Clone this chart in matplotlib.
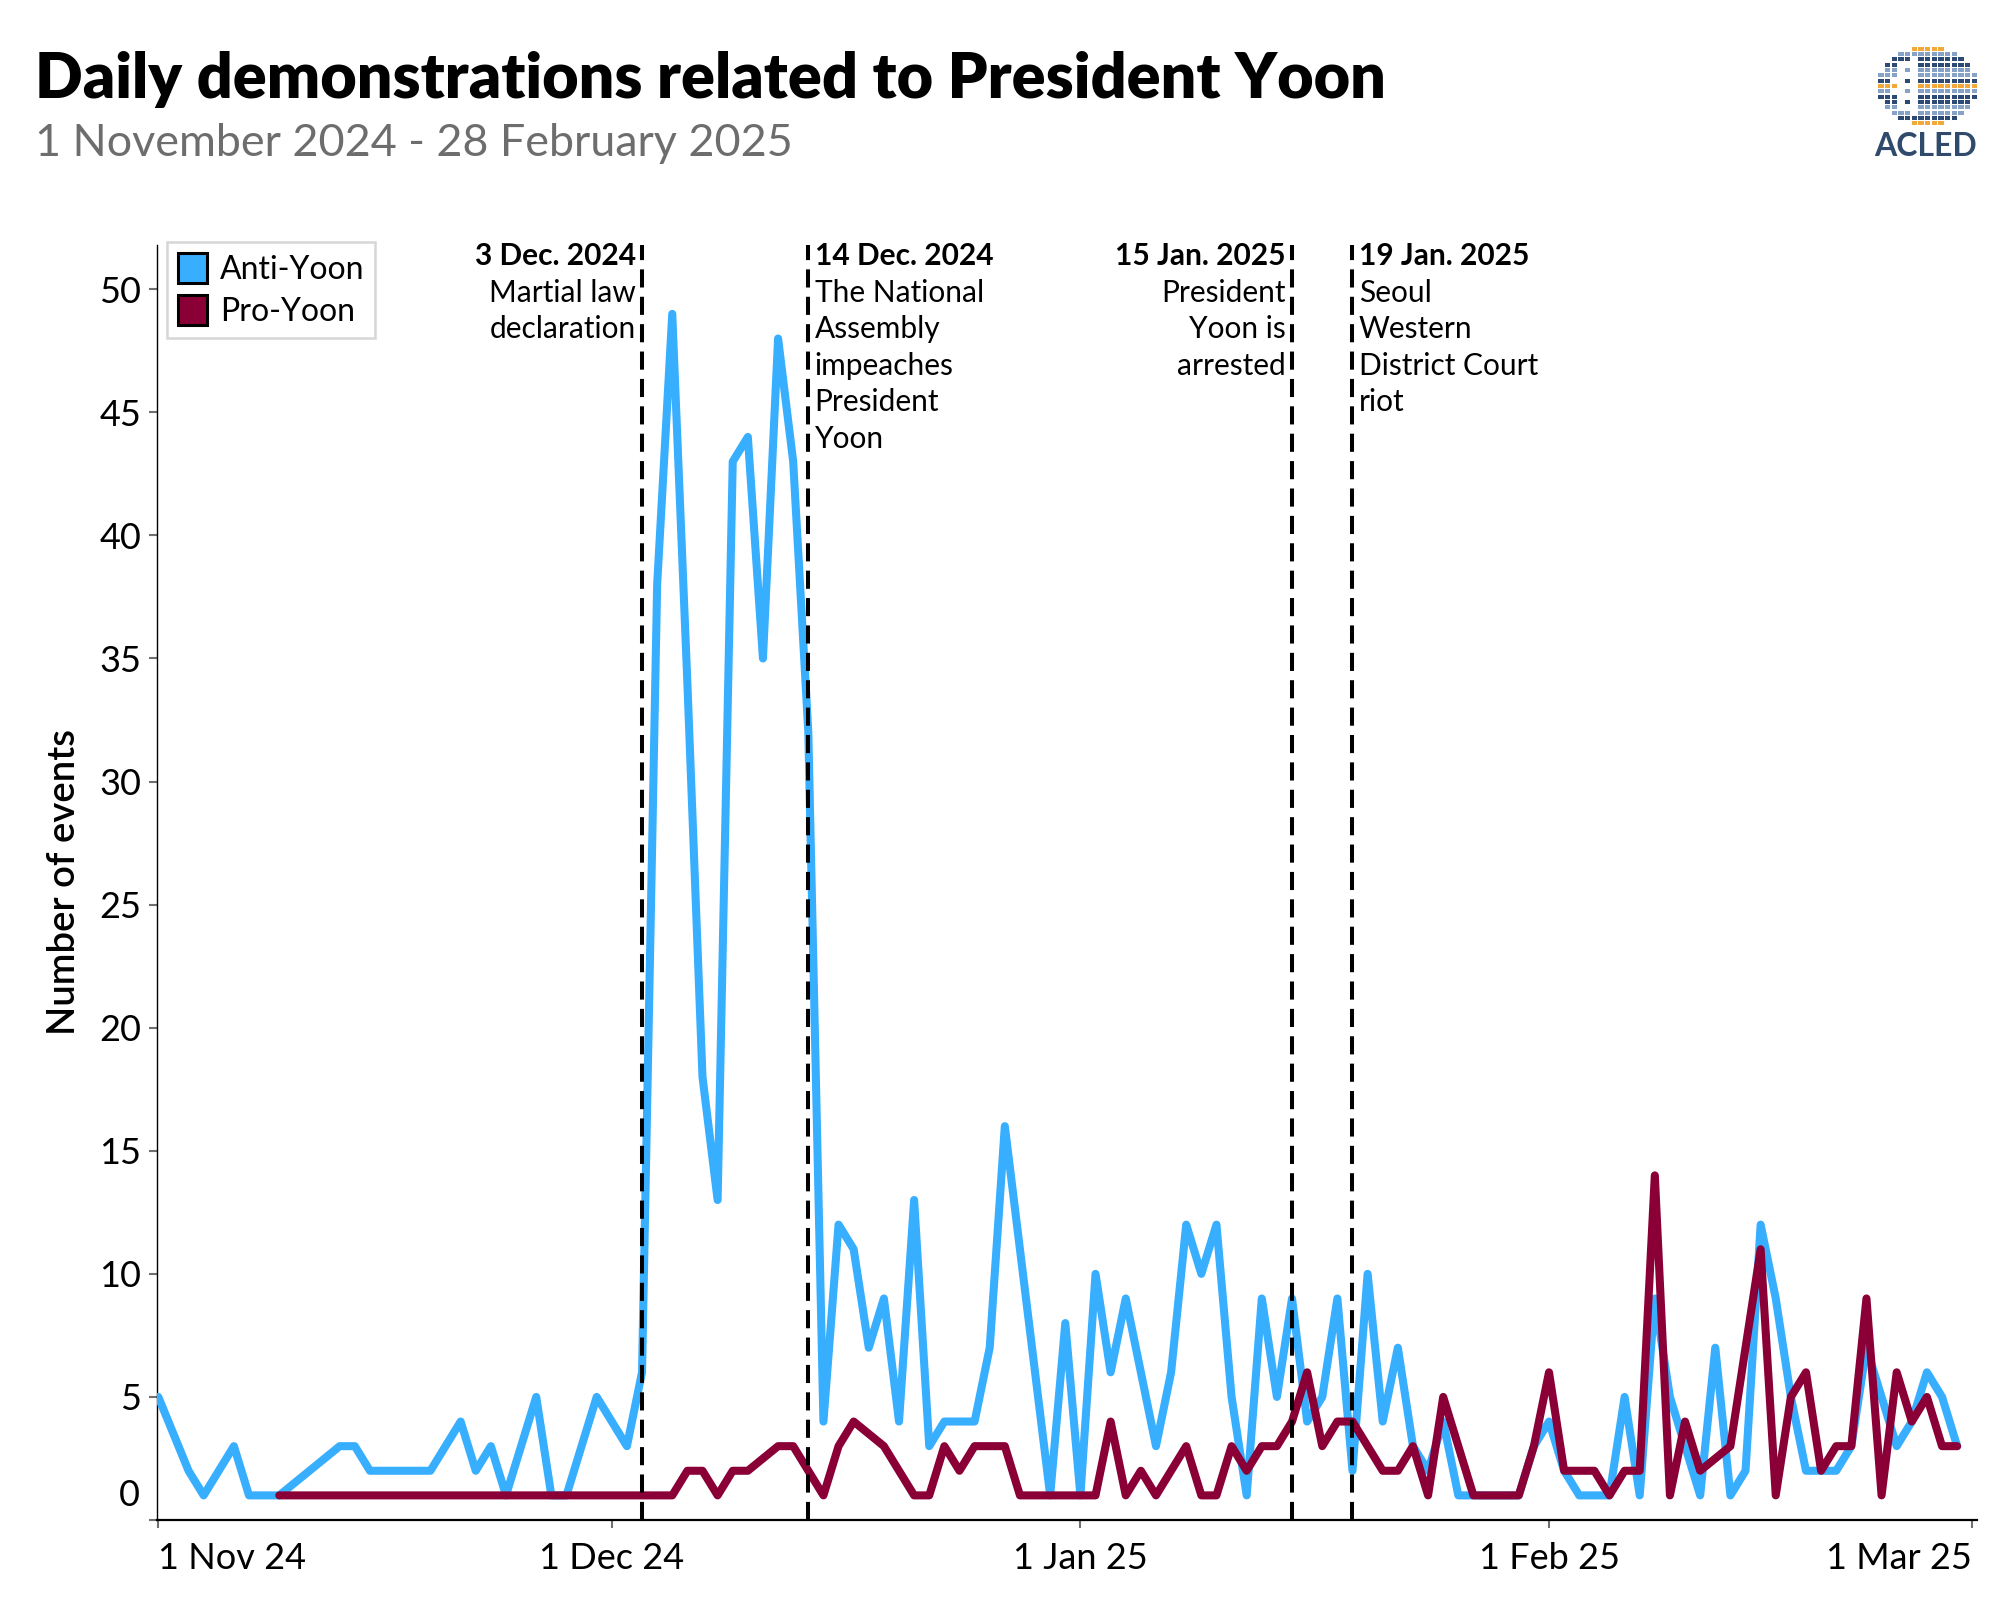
import matplotlib
matplotlib.use("Agg")
import matplotlib.pyplot as plt
import matplotlib.dates as mdates
import pandas as pd
import numpy as np
from matplotlib.patches import Patch

plt.rcParams['font.family'] = ['Lato', 'DejaVu Sans']

# Daily event counts (days with no point are left out)
anti_dates = [
    '2024-11-01', '2024-11-03', '2024-11-04', '2024-11-06', '2024-11-07', '2024-11-08',
    '2024-11-09', '2024-11-13', '2024-11-14', '2024-11-15', '2024-11-16', '2024-11-17',
    '2024-11-18', '2024-11-19', '2024-11-21', '2024-11-22', '2024-11-23', '2024-11-24',
    '2024-11-26', '2024-11-27', '2024-11-28', '2024-11-30',
    '2024-12-02', '2024-12-03', '2024-12-04', '2024-12-05', '2024-12-06', '2024-12-07',
    '2024-12-08', '2024-12-09', '2024-12-10', '2024-12-11', '2024-12-12', '2024-12-13',
    '2024-12-14', '2024-12-15', '2024-12-16', '2024-12-17', '2024-12-18', '2024-12-19',
    '2024-12-20', '2024-12-21', '2024-12-22', '2024-12-23', '2024-12-24', '2024-12-25',
    '2024-12-26', '2024-12-27', '2024-12-28', '2024-12-29', '2024-12-30', '2024-12-31',
    '2025-01-01', '2025-01-02', '2025-01-03', '2025-01-04', '2025-01-05', '2025-01-06',
    '2025-01-07', '2025-01-08', '2025-01-09', '2025-01-10', '2025-01-11', '2025-01-12',
    '2025-01-13', '2025-01-14', '2025-01-15', '2025-01-16', '2025-01-17', '2025-01-18',
    '2025-01-19', '2025-01-20', '2025-01-21', '2025-01-22', '2025-01-23', '2025-01-24',
    '2025-01-25', '2025-01-26', '2025-01-27', '2025-01-28', '2025-01-29', '2025-01-30',
    '2025-01-31',
    '2025-02-01', '2025-02-02', '2025-02-03', '2025-02-04', '2025-02-05', '2025-02-06',
    '2025-02-07', '2025-02-08', '2025-02-09', '2025-02-10', '2025-02-11', '2025-02-12',
    '2025-02-13', '2025-02-14', '2025-02-15', '2025-02-16', '2025-02-17', '2025-02-18',
    '2025-02-19', '2025-02-20', '2025-02-21', '2025-02-22', '2025-02-23', '2025-02-24',
    '2025-02-25', '2025-02-26', '2025-02-27', '2025-02-28',
]
anti_counts = [
    5, 2, 1, 3, 1, 1,
    1, 3, 3, 2, 2, 2,
    2, 2, 4, 2, 3, 1,
    5, 1, 1, 5,
    3, 6, 38, 49, 34, 18,
    13, 43, 44, 35, 48, 43,
    32, 4, 12, 11, 7, 9,
    4, 13, 3, 4, 4, 4,
    7, 16, 11, 6, 1, 8,
    1, 10, 6, 9, 6, 3,
    6, 12, 10, 12, 5, 1,
    9, 5, 9, 4, 5, 9,
    2, 10, 4, 7, 3, 2,
    4, 1, 1, 1, 1, 1,
    3,
    4, 2, 1, 1, 1, 5,
    1, 9, 5, 3, 1, 7,
    1, 2, 12, 9, 5, 2,
    2, 2, 3, 7, 5, 3,
    4, 6, 5, 3,
]

pro_dates = [
    '2024-11-09', '2024-11-10', '2024-11-11', '2024-11-12', '2024-11-13', '2024-11-14',
    '2024-11-15', '2024-11-16', '2024-11-17', '2024-11-18', '2024-11-19', '2024-11-20',
    '2024-11-21', '2024-11-22', '2024-11-23', '2024-11-24', '2024-11-25', '2024-11-26',
    '2024-11-27', '2024-11-28', '2024-11-29', '2024-11-30',
    '2024-12-01', '2024-12-02', '2024-12-03', '2024-12-04', '2024-12-05', '2024-12-06',
    '2024-12-07', '2024-12-08', '2024-12-09', '2024-12-10', '2024-12-12', '2024-12-13',
    '2024-12-14', '2024-12-15', '2024-12-16', '2024-12-17', '2024-12-19', '2024-12-21',
    '2024-12-22', '2024-12-23', '2024-12-24', '2024-12-25', '2024-12-26', '2024-12-27',
    '2024-12-28', '2024-12-29', '2024-12-30', '2024-12-31',
    '2025-01-01', '2025-01-02', '2025-01-03', '2025-01-04', '2025-01-05', '2025-01-06',
    '2025-01-08', '2025-01-09', '2025-01-10', '2025-01-11', '2025-01-12', '2025-01-13',
    '2025-01-14', '2025-01-15', '2025-01-16', '2025-01-17', '2025-01-18', '2025-01-19',
    '2025-01-21', '2025-01-22', '2025-01-23', '2025-01-24', '2025-01-25', '2025-01-27',
    '2025-01-28', '2025-01-29', '2025-01-30', '2025-01-31',
    '2025-02-01', '2025-02-02', '2025-02-03', '2025-02-04', '2025-02-05', '2025-02-06',
    '2025-02-07', '2025-02-08', '2025-02-09', '2025-02-10', '2025-02-11', '2025-02-13',
    '2025-02-15', '2025-02-16', '2025-02-17', '2025-02-18', '2025-02-19', '2025-02-20',
    '2025-02-21', '2025-02-22', '2025-02-23', '2025-02-24', '2025-02-25', '2025-02-26',
    '2025-02-27', '2025-02-28',
]
pro_counts = [
    1, 1, 1, 1, 1, 1,
    1, 1, 1, 1, 1, 1,
    1, 1, 1, 1, 1, 1,
    1, 1, 1, 1,
    1, 1, 1, 1, 1, 2,
    2, 1, 2, 2, 3, 3,
    2, 1, 3, 4, 3, 1,
    1, 3, 2, 3, 3, 3,
    1, 1, 1, 1,
    1, 1, 4, 1, 2, 1,
    3, 1, 1, 3, 2, 3,
    3, 4, 6, 3, 4, 4,
    2, 2, 3, 1, 5, 1,
    1, 1, 1, 3,
    6, 2, 2, 2, 1, 2,
    2, 14, 1, 4, 2, 3,
    11, 1, 5, 6, 2, 3,
    3, 9, 1, 6, 4, 5,
    3, 3,
]

series_names = ['Anti-Yoon', 'Pro-Yoon']
series_colors = ['#38AEFF', '#8A0036']

# Key events marked with dashed lines
event_dates = ['2024-12-03', '2024-12-14', '2025-01-15', '2025-01-19']
event_titles = ['3 Dec. 2024', '14 Dec. 2024', '15 Jan. 2025', '19 Jan. 2025']
event_lines = [
    ['Martial law', 'declaration'],
    ['The National', 'Assembly', 'impeaches', 'President', 'Yoon'],
    ['President', 'Yoon is', 'arrested'],
    ['Seoul', 'Western', 'District Court', 'riot'],
]
event_sides = ['left', 'right', 'left', 'right']

tick_dates = ['2024-11-01', '2024-12-01', '2025-01-01', '2025-02-01', '2025-03-01']
tick_labels = ['1 Nov 24', '1 Dec 24', '1 Jan 25', '1 Feb 25', '1 Mar 25']
y_ticks = [0, 5, 10, 15, 20, 25, 30, 35, 40, 45, 50]

fig = plt.figure(figsize=(20, 16), dpi=100)
ax = fig.add_axes([0.0784, 0.05, 0.9100, 0.7969])

anti_x = pd.to_datetime(anti_dates)
pro_x = pd.to_datetime(pro_dates)
ax.plot(anti_x, anti_counts, color=series_colors[0], lw=5.8,
        solid_capstyle='round', solid_joinstyle='round', zorder=3)
ax.plot(pro_x, pro_counts, color=series_colors[1], lw=5.8,
        solid_capstyle='round', solid_joinstyle='round', zorder=4)

# Axis limits and ticks
x0 = mdates.date2num(pd.Timestamp('2024-11-01')) - 0.1
x1 = mdates.date2num(pd.Timestamp('2025-03-01')) + 0.3
ax.set_xlim(x0, x1)
ax.set_ylim(0, 51.8)

ax.set_xticks(pd.to_datetime(tick_dates))
xlabels = ax.set_xticklabels(tick_labels)
xlabels[0].set_horizontalalignment('left')
xlabels[-1].set_horizontalalignment('right')

ax.set_yticks(y_ticks)
ax.set_yticklabels([''] + [str(v) for v in y_ticks[1:]])
# the zero label sits a little above the axis line in the original
ax.annotate('0', xy=(0, 1), xycoords=('axes fraction', 'data'),
            xytext=(-12, 0), textcoords='offset points',
            ha='right', va='center', fontsize=26)

ax.tick_params(axis='both', length=6, width=1.5, color='#707070', labelsize=26)
ax.tick_params(axis='x', pad=10)
ax.tick_params(axis='y', pad=5)

for side in ['top', 'right']:
    ax.spines[side].set_visible(False)
ax.spines['left'].set_linewidth(1.0)
ax.spines['bottom'].set_linewidth(1.6)

# Event lines and labels
for date, title, lines, side in zip(event_dates, event_titles, event_lines, event_sides):
    xd = pd.Timestamp(date)
    ax.axvline(xd, color='black', lw=2.9, linestyle=(0, (4.5, 2.3)), zorder=5)
    dx = -4.5 if side == 'left' else 4.5
    ha = 'right' if side == 'left' else 'left'
    ax.annotate(title, xy=(xd, 1.0), xycoords=('data', 'axes fraction'),
                xytext=(dx, 2), textcoords='offset points',
                ha=ha, va='top', fontsize=21.5, fontweight='bold')
    for i, line in enumerate(lines):
        ax.annotate(line, xy=(xd, 1.0), xycoords=('data', 'axes fraction'),
                    xytext=(dx, 2 - 26.3 * (i + 1)), textcoords='offset points',
                    ha=ha, va='top', fontsize=21.5)

# Legend
handles = [Patch(facecolor=c, edgecolor='black', linewidth=2.2) for c in series_colors]
leg = ax.legend(handles, series_names, loc='upper left',
                bbox_to_anchor=(167 / 2000, 1 - 242 / 1600), bbox_transform=fig.transFigure,
                fontsize=23, frameon=True, fancybox=False, borderaxespad=0,
                handlelength=0.9, handleheight=1.05, handletextpad=0.4,
                borderpad=0.35, labelspacing=0.32)
leg.get_frame().set_edgecolor('#cccccc')
leg.get_frame().set_linewidth(1.8)

# Titles and axis label
fig.text(35 / 2000, 1 - 98 / 1600, 'Daily demonstrations related to President Yoon',
         fontsize=45.3, fontweight='heavy', va='baseline', ha='left')
fig.text(35 / 2000, 1 - 156 / 1600, '1 November 2024 - 28 February 2025',
         fontsize=32.3, color='#6d6d6d', va='baseline', ha='left')
fig.text(65 / 2000, 1 - 882 / 1600, 'Number of events', rotation=90,
         fontsize=27.5, fontweight='semibold', ha='center', va='center')

# Simple ACLED logo: mosaic globe plus wordmark
logo = fig.add_axes([1875 / 2000, 1 - 128 / 1600, 105 / 2000, 84 / 1600])
logo.set_xlim(-1.05, 1.05)
logo.set_ylim(-1.05, 1.05)
logo.axis('off')
n_cells = 15
step = 2.0 / n_cells
for gx in range(n_cells):
    for gy in range(n_cells):
        cx = -1 + (gx + 0.5) * step
        cy = -1 + (gy + 0.5) * step
        r = cx ** 2 + cy ** 2
        if r > 1.0:
            continue
        # left half reads as a sparse outline, right half is dense
        if cx < -0.2 and r < 0.6 and (gx + 2 * gy) % 4 != 0:
            continue
        k = (gx * 7 + gy * 3) % 7
        col = '#f3a83b' if k == 0 else ('#2c4a73' if k % 2 else '#86a3c7')
        logo.add_patch(plt.Rectangle((cx - step * 0.4, cy - step * 0.4), step * 0.8, step * 0.8,
                                     color=col, lw=0))
fig.text(1926 / 2000, 1 - 146 / 1600, 'ACLED', fontsize=23, color='#2f4a6b',
         fontweight='bold', ha='center', va='center')

fig.savefig('out.png', dpi=100)
